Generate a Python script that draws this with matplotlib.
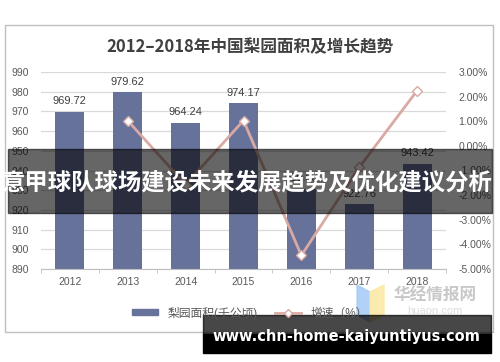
import numpy as np
import matplotlib
matplotlib.use("Agg")
import matplotlib.pyplot as plt
from matplotlib.patches import Rectangle, Polygon
from matplotlib.lines import Line2D

plt.rcParams["font.family"] = ["Liberation Sans", "Noto Sans CJK SC", "DejaVu Sans"]

# -----------------------------------------------------------------
# Datos
# -----------------------------------------------------------------
years = ["2012", "2013", "2014", "2015", "2016", "2017", "2018"]
area = [969.72, 979.62, 964.24, 974.17, 930.83, 922.76, 943.42]
growth = [np.nan, 1.02, -1.57, 1.03, -4.45, -0.87, 2.24]
left_ticks = [890, 900, 910, 920, 930, 940, 950, 960, 970, 980, 990]
right_ticks = [-5, -4, -3, -2, -1, 0, 1, 2, 3]

W, H = 500, 362
fig = plt.figure(figsize=(W / 100, H / 100), dpi=100)

def fx(x):
    return x / W

def fy(y):
    return 1 - y / H

# marco del grafico
fig.patches.append(Rectangle((fx(5), fy(332)), fx(488), 307 / H, transform=fig.transFigure,
                             fill=False, edgecolor="#bfbfbf", linewidth=1.0))

ax = fig.add_axes([fx(41), fy(269), fx(405), 197 / H])
x = np.arange(len(years))
bars = ax.bar(x, area, width=0.5, color="#67729b", zorder=2)
ax.set_ylim(890, 990)
ax.set_xlim(-0.5, len(years) - 0.5)
ax.set_yticks(left_ticks)
ax.set_yticklabels([str(t) for t in left_ticks], fontsize=7.5, color="#595959")
ax.yaxis.grid(True, color="#d9d9d9", linewidth=0.9, zorder=0)
ax.set_xticks(x)
ax.set_xticklabels(years, fontsize=7.5, color="#595959")
ax.tick_params(axis="x", length=0, pad=6)
ax.tick_params(axis="y", length=0, pad=9)
ax.set_xticks(np.arange(-0.5, len(years)), minor=True)
ax.tick_params(axis="x", which="minor", length=3, color="#bfbfbf")
for s in ["top", "right", "left"]:
    ax.spines[s].set_visible(False)
ax.spines["bottom"].set_color("#bfbfbf")

for xi, v in zip(x, area):
    ax.annotate(f"{v:.2f}", (xi, v), xytext=(0, 4), textcoords="offset points",
                ha="center", va="bottom", fontsize=8, color="#404040")

ax2 = ax.twinx()
ax2.set_ylim(-5, 3)
ax2.plot(x, growth, color="#d8aaa3", linewidth=2.0, marker="D", markersize=5,
         markerfacecolor="white", markeredgecolor="#d8aaa3", zorder=3)
ax2.set_yticks(right_ticks)
ax2.set_yticklabels([f"{t:.2f}%" for t in right_ticks], fontsize=7.5, color="#595959")
ax2.tick_params(axis="y", length=0, pad=9)
for s in ["top", "right", "left", "bottom"]:
    ax2.spines[s].set_visible(False)

fig.text(0.5, fy(47), "2012–2018年中国梨园面积及增长趋势", ha="center", va="center",
         fontsize=12, fontweight="bold", color="#404040",
         family=["Noto Sans CJK SC", "DejaVu Sans"])

# leyenda
handles = [Rectangle((0, 0), 1, 1, color="#67729b"),
           Line2D([0], [0], color="#d8aaa3", linewidth=2, marker="D", markersize=4,
                  markerfacecolor="white", markeredgecolor="#d8aaa3")]
fig.legend(handles, ["梨园面积(千公顷)", "增速（%）"], loc="center", ncol=2,
           bbox_to_anchor=(fx(250), fy(313)), frameon=False, fontsize=8.5,
           handlelength=2.2, handleheight=0.4, columnspacing=1.5, labelcolor="#595959")

# logo huaon
fig.patches.append(Polygon([(fx(357), fy(285)), (fx(370), fy(292)), (fx(370), fy(322)), (fx(357), fy(315))],
                           closed=True, transform=fig.transFigure, color="#a9cdf5", alpha=0.9))
fig.patches.append(Polygon([(fx(370), fy(292)), (fx(384), fy(285)), (fx(384), fy(315)), (fx(370), fy(322))],
                           closed=True, transform=fig.transFigure, color="#fbe9a6", alpha=0.9))
fig.text(fx(435), fy(296), "华经情报网", ha="center", va="center", fontsize=12,
         fontweight="bold", color="#c8c8c8", family=["Noto Sans CJK SC", "DejaVu Sans"])
fig.text(fx(435), fy(311), "huaon.com", ha="center", va="center", fontsize=8,
         color="#dcdcdc")

# banda superpuesta
fig.patches.append(Rectangle((fx(8), fy(213)), fx(484), 64 / H, transform=fig.transFigure,
                             color="black", alpha=0.6, zorder=5))
fig.text(fx(246), fy(182), "意甲球队球场建设未来发展趋势及优化建议分析", ha="center", va="center",
         fontsize=16.8, fontweight="bold", color="white", zorder=6,
         family=["Noto Sans CJK SC", "DejaVu Sans"])

# marca de agua inferior
fig.patches.append(Rectangle((fx(203), fy(334)), fx(288), 19 / H, transform=fig.transFigure,
                             color="black", alpha=0.72, zorder=5))
fig.patches.append(Rectangle((fx(203), fy(353)), fx(288), 19 / H, transform=fig.transFigure,
                             color="black", zorder=5))
fig.text(fx(346), fy(336), "www.chn-home-kaiyuntiyus.com", ha="center", va="center",
         fontsize=10.5, fontweight="bold", color="white", zorder=6, family="DejaVu Sans")

fig.savefig("out.png", dpi=100)
